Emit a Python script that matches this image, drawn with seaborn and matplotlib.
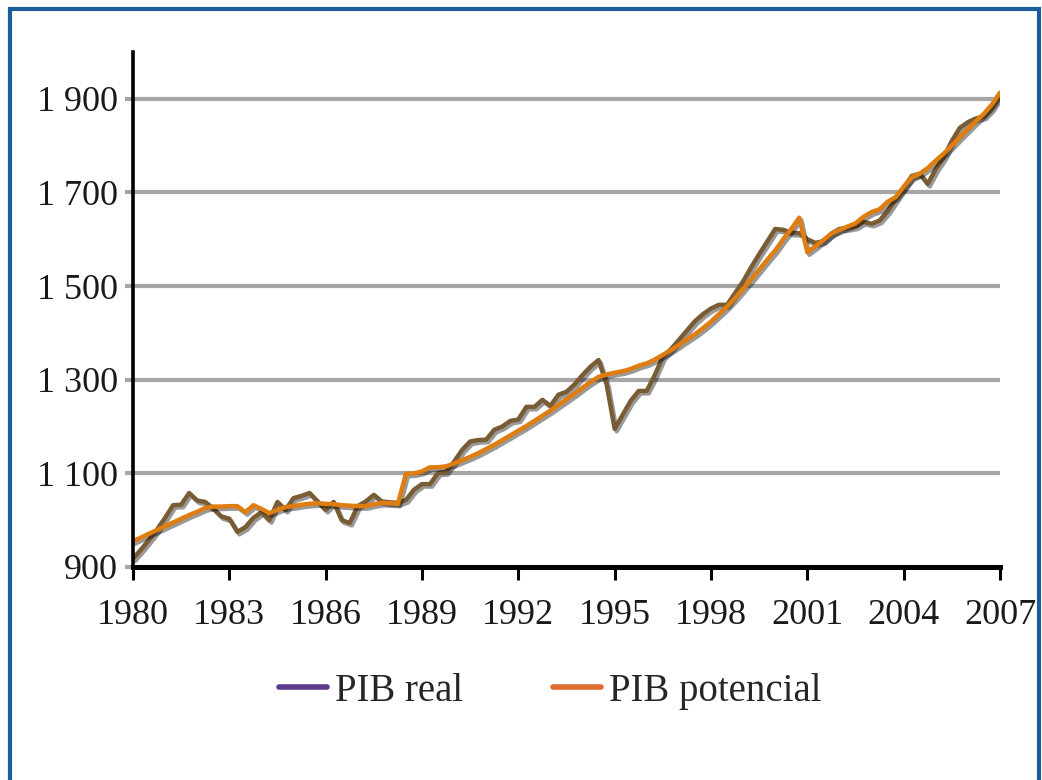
import numpy as np
import pandas as pd
import matplotlib.pyplot as plt
import matplotlib.patheffects as pe
from matplotlib.lines import Line2D
from matplotlib.patches import Rectangle
import seaborn as sns

# Quarterly data, 1980Q1 - 2007Q1
quarters = 1980 + np.arange(109) / 4

pib_real = [
    918, 937, 958, 980,
    1005, 1032, 1033, 1058,
    1042, 1039, 1025, 1008,
    1003, 975, 985, 1005,
    1017, 1000, 1039, 1022,
    1047, 1052, 1058, 1040,
    1022, 1039, 1000, 994,
    1030, 1040, 1054, 1040,
    1038, 1037, 1043, 1065,
    1077, 1077, 1101, 1103,
    1125, 1150, 1168, 1171,
    1172, 1193, 1200, 1212,
    1215, 1242, 1242, 1257,
    1244, 1268, 1274, 1290,
    1310, 1328, 1342, 1290,
    1195, 1225, 1255, 1276,
    1276, 1310, 1349, 1365,
    1385, 1405, 1425, 1440,
    1452, 1460, 1460, 1485,
    1510, 1540, 1568, 1595,
    1622, 1620, 1614, 1613,
    1600, 1592, 1596, 1612,
    1622, 1624, 1627, 1637,
    1633, 1640, 1660, 1685,
    1710, 1735, 1740, 1718,
    1750, 1775, 1810, 1838,
    1850, 1858, 1862, 1880,
    1908,
]

pib_potencial = [
    955, 963, 971, 979,
    987, 995, 1003, 1011,
    1018, 1026, 1029, 1029,
    1030, 1030, 1017, 1032,
    1024, 1015, 1022, 1028,
    1030, 1033, 1035, 1036,
    1035, 1034, 1032, 1031,
    1030, 1030, 1034, 1037,
    1036, 1035, 1099, 1100,
    1104, 1113, 1113, 1115,
    1121, 1128, 1135, 1143,
    1152, 1161, 1171, 1181,
    1191, 1201, 1212, 1223,
    1234, 1246, 1258, 1270,
    1283, 1295, 1306, 1311,
    1315, 1318, 1323, 1330,
    1335, 1343, 1353, 1363,
    1374, 1386, 1397, 1410,
    1424, 1440, 1456, 1474,
    1494, 1514, 1535, 1556,
    1576, 1600, 1622, 1646,
    1572, 1585, 1598, 1612,
    1620, 1627, 1634, 1648,
    1658, 1664, 1680, 1690,
    1712, 1732, 1740, 1752,
    1768, 1783, 1800, 1818,
    1835, 1852, 1868, 1888,
    1913,
]

year_ticks = list(range(1980, 2008, 3))
y_ticks = [900, 1100, 1300, 1500, 1700, 1900]
y_labels = ["900", "1 100", "1 300", "1 500", "1 700", "1 900"]
series_names = ["PIB real", "PIB potencial"]

df = pd.DataFrame({
    "trimestre": np.concatenate([quarters, quarters]),
    "valor": pib_real + pib_potencial,
    "serie": [series_names[0]] * len(pib_real) + [series_names[1]] * len(pib_potencial),
})

sns.set_theme(style="white")
plt.rcParams["font.family"] = ["Liberation Serif", "DejaVu Serif"]

fig = plt.figure(figsize=(10.42, 7.8), dpi=100)
ax = fig.add_axes([0.1276, 0.2731, 0.8321, 0.6603])

sns.lineplot(
    data=df, x="trimestre", y="valor", hue="serie",
    palette={"PIB real": "#7a5c34", "PIB potencial": "#e07d10"},
    linewidth=3.2, legend=False, ax=ax,
)
for line in ax.lines:
    line.set_path_effects([
        pe.SimpleLineShadow(offset=(1.5, -1.8), shadow_color="black", alpha=0.4),
        pe.Normal(),
    ])

ax.set_xlim(1980, 2007)
ax.set_ylim(900, 2000)
ax.set_xticks(year_ticks)
ax.set_xticklabels([str(y) for y in year_ticks])
ax.set_yticks(y_ticks)
ax.set_yticklabels(y_labels)
ax.set_xlabel("")
ax.set_ylabel("")

ax.yaxis.grid(True, color="#a6a6a6", linewidth=3)
ax.xaxis.grid(False)
ax.set_axisbelow(True)

for side in ["top", "right"]:
    ax.spines[side].set_visible(False)
ax.spines["left"].set_color("black")
ax.spines["left"].set_linewidth(2.6)
ax.spines["bottom"].set_color("black")
ax.spines["bottom"].set_linewidth(3.6)

ax.tick_params(axis="x", direction="out", length=9, width=2.2, color="black",
               pad=14, labelsize=26, labelcolor="#1a1a1a", bottom=True)
ax.tick_params(axis="y", direction="out", length=6, width=3, color="#a6a6a6",
               pad=5, labelsize=26, labelcolor="#1a1a1a", left=True)

handles = [
    Line2D([], [], color="#5e3a8c", linewidth=4),
    Line2D([], [], color="#e06c2e", linewidth=4),
]
fig.legend(handles, series_names, loc="center", bbox_to_anchor=(0.528, 0.114),
           ncol=2, frameon=False, fontsize=28, handlelength=1.25,
           handletextpad=0.2, columnspacing=2.3)

# blue frame around the figure
fig.add_artist(Rectangle((0.0096, -0.05), 0.9875, 1.0385, fill=False,
                         edgecolor="#1b5e9b", linewidth=3,
                         transform=fig.transFigure, clip_on=False))

fig.savefig("out.png", dpi=100)
plt.close()
